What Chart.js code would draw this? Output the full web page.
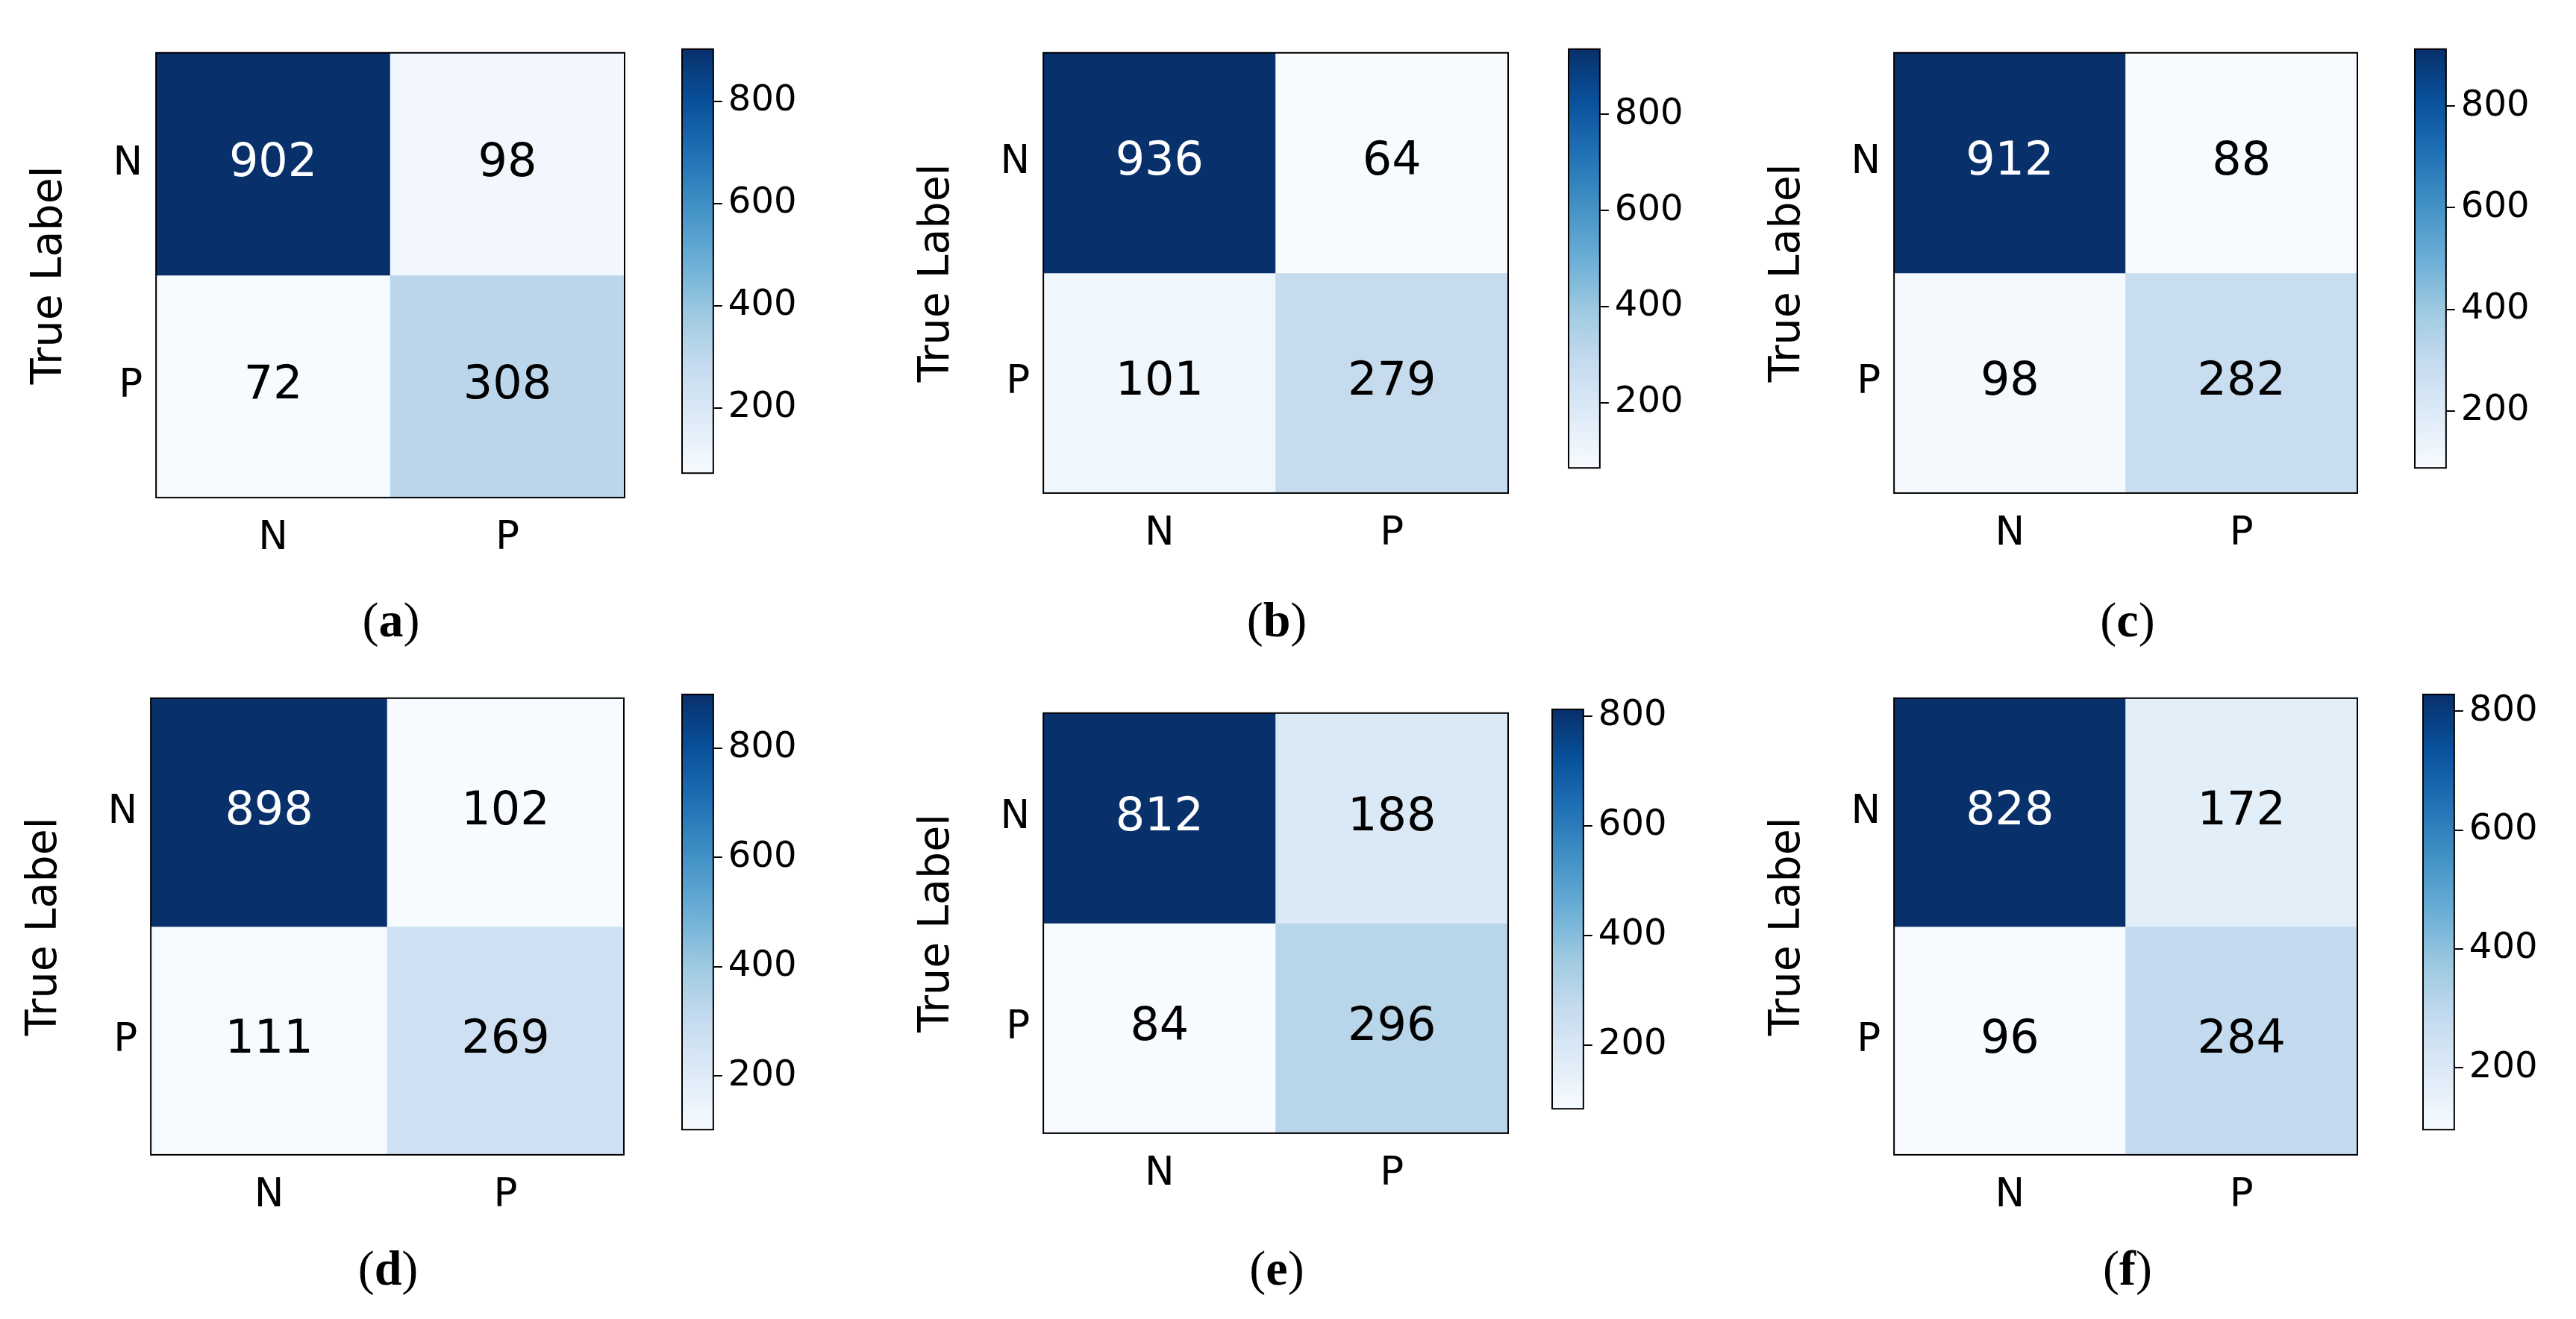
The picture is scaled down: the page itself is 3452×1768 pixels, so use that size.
<!DOCTYPE html>
<html>
<head>
<meta charset="utf-8">
<script src="https://cdn.jsdelivr.net/npm/chart.js@4"></script>
<style>
  body { margin: 0; background: #fff; width: 3452px; height: 1768px; position: relative; overflow: hidden; }
  canvas { position: absolute; }
  .cap { position: absolute; font-family: "Liberation Serif", serif; font-size: 66px; transform: translateX(-50%); }
</style>
</head>
<body>
<script>
// confusion matrices, rows = true label, cols = predicted
const classLabels = ["N", "P"];
const panelNames = ["a", "b", "c", "d", "e", "f"];
const matA = [[902, 98], [72, 308]];
const matB = [[936, 64], [101, 279]];
const matC = [[912, 88], [98, 282]];
const matD = [[898, 102], [111, 269]];
const matE = [[812, 188], [84, 296]];
const matF = [[828, 172], [96, 284]];
const colorbarTicks = [200, 400, 600, 800];
const matrices = [matA, matB, matC, matD, matE, matF];

const S = 3452 / 1568;
// layout in reference display units
const layout = [
  { mx: 95, my: 15, mw: 285, mh: 288, cb: 415, cx: 238, cy: 360 },
  { mx: 635, my: 15, mw: 283, mh: 285, cb: 955, cx: 777, cy: 360 },
  { mx: 1153, my: 15, mw: 282, mh: 285, cb: 1470, cx: 1295, cy: 360 },
  { mx: 92, my: 408, mw: 288, mh: 295, cb: 415, cx: 236, cy: 755 },
  { mx: 635, my: 417, mw: 283, mh: 273, cb: 945, cx: 777, cy: 755 },
  { mx: 1153, my: 408, mw: 282, mh: 295, cb: 1475, cx: 1295, cy: 755 },
];

const blues = ["#f7fbff", "#deebf7", "#c6dbef", "#9ecae1", "#6baed6", "#4292c6", "#2171b5", "#08519c", "#08306b"];
function hex(h) { return [1, 3, 5].map(i => parseInt(h.substr(i, 2), 16)); }
function bluesAt(t) {
  t = Math.max(0, Math.min(1, t)) * (blues.length - 1);
  const i = Math.min(Math.floor(t), blues.length - 2), f = t - i;
  const a = hex(blues[i]), b = hex(blues[i + 1]);
  return `rgb(${a.map((v, k) => Math.round(v + (b[k] - v) * f)).join(",")})`;
}

const FONT = "DejaVu Sans";
const tickFont = { family: FONT, size: Math.round(24 * S) };
const PAD = 4;

const frame = {
  id: "frame",
  afterDraw(chart) {
    const { ctx, chartArea: a } = chart;
    ctx.save();
    ctx.strokeStyle = "#000";
    ctx.lineWidth = 2;
    ctx.strokeRect(a.left, a.top, a.right - a.left, a.bottom - a.top);
    ctx.restore();
  },
};

function makeCanvas(left, top, w, h) {
  const c = document.createElement("canvas");
  c.width = Math.round(w); c.height = Math.round(h);
  c.style.left = Math.round(left) + "px"; c.style.top = Math.round(top) + "px";
  document.body.appendChild(c);
  return c;
}

matrices.forEach((m, p) => {
  const L = layout[p];
  const flat = m.flat();
  const vmin = Math.min(...flat), vmax = Math.max(...flat);
  const color = v => bluesAt((v - vmin) / (vmax - vmin));
  const yAxisW = 80 * S, xAxisH = 60 * S;
  const cv = makeCanvas((L.mx - 80) * S, L.my * S - PAD, yAxisW + L.mw * S + PAD, L.mh * S + xAxisH + PAD);

  new Chart(cv, {
    type: "bar",
    data: {
      labels: classLabels,
      datasets: m.map((row, r) => ({
        data: row.map(() => [r, r + 1]),
        backgroundColor: row.map(color),
        barPercentage: 1,
        categoryPercentage: 1,
        grouped: false,
        borderWidth: 0,
      })),
    },
    options: {
      responsive: false,
      devicePixelRatio: 1,
      animation: false,
      layout: { padding: { top: PAD, right: PAD } },
      plugins: { legend: { display: false }, tooltip: { enabled: false } },
      scales: {
        x: {
          grid: { display: false },
          ticks: { font: tickFont, color: "#000", padding: 16 },
          border: { display: false },
          afterFit(s) { s.height = xAxisH; },
        },
        y: {
          min: 0, max: 2, reverse: true,
          grid: { display: false },
          border: { display: false },
          afterBuildTicks(s) { s.ticks = [{ value: 0.5 }, { value: 1.5 }]; },
          ticks: { font: tickFont, color: "#000", padding: 10, callback: v => classLabels[v > 1 ? 1 : 0] },
          title: { display: true, text: "True Label", font: { family: FONT, size: Math.round(26 * S) }, color: "#000", padding: 0 },
          afterFit(s) { s.width = yAxisW; },
        },
      },
    },
    plugins: [frame, {
      id: "cellText",
      afterDatasetsDraw(chart) {
        const { ctx, scales } = chart;
        ctx.save();
        ctx.font = `${Math.round(28 * S)}px ${FONT}`;
        ctx.textAlign = "center";
        ctx.textBaseline = "middle";
        m.forEach((row, r) => row.forEach((v, c) => {
          ctx.fillStyle = (v - vmin) / (vmax - vmin) > 0.5 ? "#fff" : "#000";
          ctx.fillText(String(v), scales.x.getPixelForValue(c), scales.y.getPixelForValue(r + 0.5));
        }));
        ctx.restore();
      },
    }],
  });

  // colorbar
  const cbW = 17 * S, cbAxisW = 95 * S;
  const cc = makeCanvas(L.cb * S - PAD, L.my * S - PAD, cbW + cbAxisW + 2 * PAD, L.mh * S + 2 * PAD);
  new Chart(cc, {
    type: "bar",
    data: {
      labels: [""],
      datasets: [{
        data: [[vmin, vmax]],
        barPercentage: 1, categoryPercentage: 1, borderWidth: 0,
        backgroundColor(ctx) {
          const a = ctx.chart.chartArea;
          if (!a) return "#fff";
          const g = ctx.chart.ctx.createLinearGradient(0, a.bottom, 0, a.top);
          blues.forEach((b, i) => g.addColorStop(i / (blues.length - 1), b));
          return g;
        },
      }],
    },
    options: {
      responsive: false,
      devicePixelRatio: 1,
      animation: false,
      layout: { padding: { top: PAD, bottom: PAD, left: PAD } },
      plugins: { legend: { display: false }, tooltip: { enabled: false } },
      scales: {
        x: { display: false },
        y: {
          position: "right",
          min: vmin, max: vmax,
          afterBuildTicks(s) { s.ticks = colorbarTicks.filter(t => t >= vmin && t <= vmax).map(t => ({ value: t })); },
          grid: { drawOnChartArea: false, tickLength: 12, color: "#000", lineWidth: 2 },
          border: { display: false },
          ticks: { font: { family: FONT, size: Math.round(22 * S) }, color: "#000", padding: 8 },
          afterFit(s) { s.width = cbAxisW; },
        },
      },
    },
    plugins: [frame],
  });

  const cap = document.createElement("div");
  cap.className = "cap";
  cap.style.left = Math.round(L.cx * S) + "px";
  cap.style.top = Math.round(L.cy * S) + "px";
  cap.innerHTML = `(<b>${panelNames[p]}</b>)`;
  document.body.appendChild(cap);
});
</script>
</body>
</html>
